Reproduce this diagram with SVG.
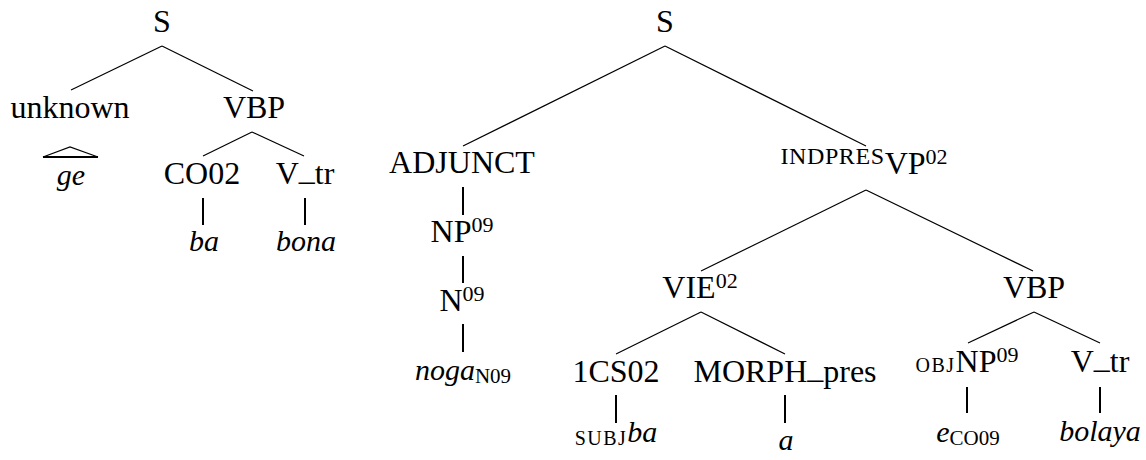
<svg xmlns="http://www.w3.org/2000/svg" width="1146" height="460" viewBox="0 0 1146 460">
  <rect width="1146" height="460" fill="#fff"/>

  <!-- connectors: thin diagonal branches, heavier vertical stems -->
  <g id="connectors" stroke="#000" fill="none">
    <g stroke-width="1.2">
      <!-- left tree -->
      <line x1="162" y1="46" x2="71" y2="90"/>
      <line x1="162" y1="46" x2="253" y2="91"/>
      <line x1="252" y1="132" x2="203" y2="156"/>
      <line x1="252" y1="132" x2="304" y2="156"/>
      <path d="M43,157 L70,147 L98,157"/>
      <!-- right tree -->
      <line x1="665" y1="46" x2="463" y2="146"/>
      <line x1="665" y1="46" x2="866" y2="146"/>
      <line x1="866" y1="190" x2="701" y2="271"/>
      <line x1="866" y1="190" x2="1033" y2="271"/>
      <line x1="701" y1="312" x2="616" y2="354"/>
      <line x1="701" y1="312" x2="785" y2="354"/>
      <line x1="1034" y1="312" x2="968" y2="343"/>
      <line x1="1034" y1="312" x2="1100" y2="343"/>
    </g>
    <g stroke-width="2">
      <line x1="43" y1="157" x2="98" y2="157"/>
      <line x1="203" y1="198" x2="203" y2="225"/>
      <line x1="305" y1="198" x2="305" y2="225"/>
      <line x1="463" y1="187" x2="463" y2="215"/>
      <line x1="463" y1="256" x2="463" y2="283"/>
      <line x1="463" y1="324" x2="463" y2="352"/>
      <line x1="616" y1="395" x2="616" y2="423"/>
      <line x1="785" y1="395" x2="785" y2="423"/>
      <line x1="967" y1="387" x2="967" y2="413"/>
      <line x1="1100" y1="387" x2="1100" y2="413"/>
    </g>
  </g>

  <!-- left tree nodes -->
  <g id="l-S"><text style="font-family: 'Liberation Serif', serif" font-size="32" text-anchor="middle" x="162" y="32">S</text></g>
  <g id="l-unknown"><text style="font-family: 'Liberation Serif', serif" font-size="32" text-anchor="middle" x="70" y="118">unknown</text></g>
  <g id="l-ge"><text style="font-family: 'Liberation Serif', serif" font-size="30" font-style="italic" text-anchor="middle" x="71" y="185">ge</text></g>
  <g id="l-VBP"><text style="font-family: 'Liberation Serif', serif" font-size="32" text-anchor="middle" x="254" y="118">VBP</text></g>
  <g id="l-CO02"><text style="font-family: 'Liberation Serif', serif" font-size="32" text-anchor="middle" x="202" y="184">CO02</text></g>
  <g id="l-Vtr"><text style="font-family: 'Liberation Serif', serif" font-size="32" text-anchor="middle" x="305" y="184">V<tspan dy="-4">_</tspan><tspan dy="4">tr</tspan></text></g>
  <g id="l-ba"><text style="font-family: 'Liberation Serif', serif" font-size="30" font-style="italic" text-anchor="middle" x="204" y="251">ba</text></g>
  <g id="l-bona"><text style="font-family: 'Liberation Serif', serif" font-size="30" font-style="italic" text-anchor="middle" x="306" y="251">bona</text></g>

  <!-- right tree nodes -->
  <g id="r-S"><text style="font-family: 'Liberation Serif', serif" font-size="32" text-anchor="middle" x="665" y="32">S</text></g>
  <g id="r-ADJUNCT"><text style="font-family: 'Liberation Serif', serif" font-size="32" text-anchor="middle" x="462" y="173">ADJUNCT</text></g>
  <g id="r-NP09"><text style="font-family: 'Liberation Serif', serif" font-size="32" text-anchor="middle" x="462" y="242">NP<tspan font-size="22" dy="-10">09</tspan></text></g>
  <g id="r-N09"><text style="font-family: 'Liberation Serif', serif" font-size="32" text-anchor="middle" x="462" y="311">N<tspan font-size="22" dy="-10">09</tspan></text></g>
  <g id="r-noga"><text style="font-family: 'Liberation Serif', serif" font-size="32" text-anchor="middle" x="463" y="380"><tspan font-style="italic" font-size="30">noga</tspan><tspan font-size="21" dy="3">N09</tspan></text></g>
  <g id="r-VP02"><text style="font-family: 'Liberation Serif', serif" font-size="32" text-anchor="middle" x="864" y="174"><tspan font-size="24" letter-spacing="0.6" dy="-10">INDPRES</tspan><tspan dy="10">VP</tspan><tspan font-size="22" dy="-10">02</tspan></text></g>
  <g id="r-VIE02"><text style="font-family: 'Liberation Serif', serif" font-size="32" text-anchor="middle" x="700" y="298">VIE<tspan font-size="22" dy="-10">02</tspan></text></g>
  <g id="r-VBP"><text style="font-family: 'Liberation Serif', serif" font-size="32" text-anchor="middle" x="1034" y="298">VBP</text></g>
  <g id="r-1CS02"><text style="font-family: 'Liberation Serif', serif" font-size="32" text-anchor="middle" x="616" y="382">1CS02</text></g>
  <g id="r-MORPH"><text style="font-family: 'Liberation Serif', serif" font-size="32" text-anchor="middle" x="785" y="382">MORPH<tspan dy="-4">_</tspan><tspan dy="4">pres</tspan></text></g>
  <g id="r-objNP09"><text style="font-family: 'Liberation Serif', serif" font-size="32" text-anchor="middle" x="967" y="372"><tspan font-size="20" letter-spacing="1.5">OBJ</tspan>NP<tspan font-size="22" dy="-10">09</tspan></text></g>
  <g id="r-Vtr"><text style="font-family: 'Liberation Serif', serif" font-size="32" text-anchor="middle" x="1100" y="372">V<tspan dy="-4">_</tspan><tspan dy="4">tr</tspan></text></g>
  <g id="r-subjba"><text style="font-family: 'Liberation Serif', serif" font-size="32" text-anchor="middle" x="616" y="445"><tspan font-size="20" letter-spacing="1.5">SUBJ</tspan><tspan font-style="italic" font-size="30" dy="-3">ba</tspan></text></g>
  <g id="r-a"><text style="font-family: 'Liberation Serif', serif" font-size="30" font-style="italic" text-anchor="middle" x="786" y="450">a</text></g>
  <g id="r-eCO09"><text style="font-family: 'Liberation Serif', serif" font-size="32" text-anchor="middle" x="968" y="442"><tspan font-style="italic" font-size="30">e</tspan><tspan font-size="21" dy="3">CO09</tspan></text></g>
  <g id="r-bolaya"><text style="font-family: 'Liberation Serif', serif" font-size="30" font-style="italic" text-anchor="middle" x="1100" y="441">bolaya</text></g>
</svg>
